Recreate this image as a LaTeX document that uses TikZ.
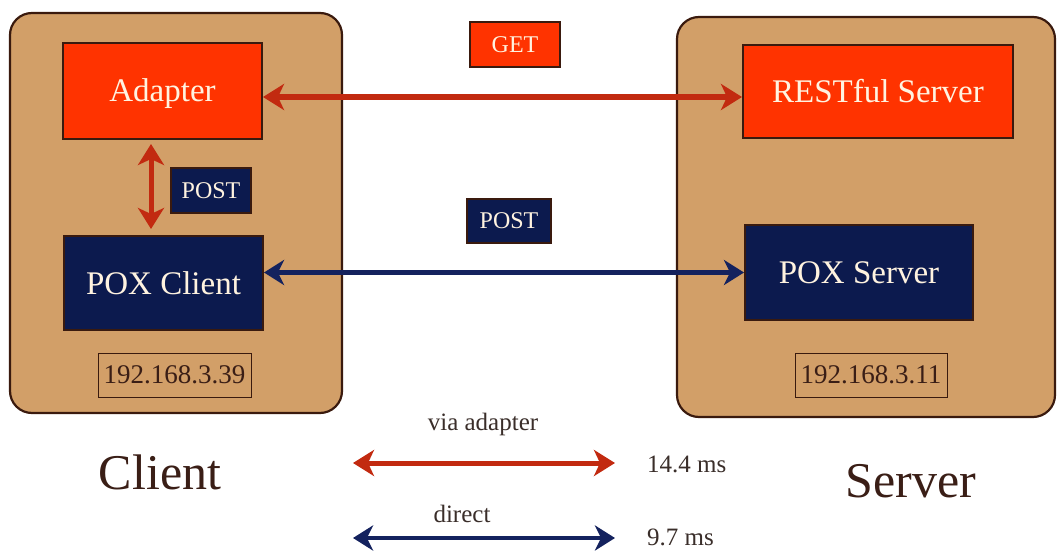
\documentclass[tikz,border=0pt]{standalone}
\usepackage{fontspec}
\setmainfont{Liberation Serif}
\usetikzlibrary{arrows.meta}
\definecolor{tanc}{HTML}{D29F68}
\definecolor{rboxc}{HTML}{FF3300}
\definecolor{nboxc}{HTML}{0C1A4E}
\definecolor{edgec}{HTML}{3A1A0E}
\definecolor{rarrc}{HTML}{C22A10}
\definecolor{barrc}{HTML}{14225E}
\definecolor{creamc}{HTML}{FFF3E0}
\definecolor{darkbr}{HTML}{3A1E16}
\definecolor{greytxt}{HTML}{3A2E2A}
\begin{document}
\begin{tikzpicture}[x=1pt,y=-1pt,
  panel/.style={draw=edgec, line width=2.2pt, fill=tanc, rounded corners=22pt, inner sep=0pt},
  box/.style={draw=edgec, line width=2pt, inner sep=0pt, text=creamc},
  redbox/.style={box, fill=rboxc},
  navybox/.style={box, fill=nboxc},
  big/.style={font=\fontsize{33}{36}\selectfont},
  small/.style={font=\fontsize{24}{26}\selectfont},
  ipbox/.style={draw=edgec, line width=1pt, inner sep=0pt, text=darkbr, font=\fontsize{27}{29}\selectfont},
  legend/.style={text=greytxt, font=\fontsize{25}{27}\selectfont},
  title/.style={text=darkbr, font=\fontsize{50}{54}\selectfont},
  redarrow/.style={draw=rarrc, line width=5pt, {Stealth[length=21pt,width=26pt,inset=6pt]}-{Stealth[length=21pt,width=26pt,inset=6pt]}},
  bluearrow/.style={draw=barrc, line width=4.5pt, {Stealth[length=20pt,width=25pt,inset=6pt]}-{Stealth[length=20pt,width=25pt,inset=6pt]}}
]
\useasboundingbox (0,0) rectangle (1058,551);
\fill[white] (0,0) rectangle (1058,551);

% panels
\node[panel, minimum width=332pt, minimum height=400pt] (cpanel) at (176,213) {};
\node[panel, minimum width=378pt, minimum height=400pt] (spanel) at (866,217) {};

% client boxes
\node[redbox, big, minimum width=199pt, minimum height=96pt, text depth=2pt] (ad) at (162.5,91) {Adapter};
\node[navybox, big, minimum width=199pt, minimum height=94pt] (pc) at (163.5,283) {POX Client};
\node[navybox, small, minimum width=80pt, minimum height=45pt] (post1) at (211,190.5) {POST};
\node[ipbox, minimum width=153pt, minimum height=44pt] (ip1) at (174.5,375) {192.168.3.39};

% server boxes
\node[redbox, big, minimum width=270pt, minimum height=93pt] (rs) at (878,91.5) {RESTful Server};
\node[navybox, big, minimum width=228pt, minimum height=95pt] (ps) at (859,272.5) {POX Server};
\node[ipbox, minimum width=152pt, minimum height=44pt] (ip2) at (871,375) {192.168.3.11};

% middle labels
\node[redbox, small, minimum width=90pt, minimum height=45pt] (get) at (515,44.5) {GET};
\node[navybox, small, minimum width=84pt, minimum height=44pt] (post2) at (509,221) {POST};

% connectors
\draw[redarrow] ([yshift=-6pt]ad.east) -- ([yshift=-5.5pt]rs.west);
\draw[bluearrow] (pc.east |- ps.west) -- (ps.west);
\draw[redarrow, shorten <=4pt, shorten >=6pt] ([xshift=-11.5pt]ad.south) -- ([xshift=-12.5pt]pc.north);

% titles
\node[title] (client) at (160,472) {Client};
\node[title] (server) at (911,481) {Server};

% legend
\coordinate (la1) at (353,463);
\coordinate (lb1) at (615,463);
\coordinate (la2) at (353,538);
\coordinate (lb2) at (615,538);
\node[legend] (via) at (483,424) {via adapter};
\node[legend] (dir) at (462,514) {direct};
\draw[redarrow] (la1) -- (lb1);
\draw[bluearrow] (la2) -- (lb2);
\node[legend, anchor=west, inner sep=0pt] (t1) at (647,464) {14.4 ms};
\node[legend, anchor=west, inner sep=0pt] (t2) at (647,537) {9.7 ms};
\end{tikzpicture}
\end{document}
